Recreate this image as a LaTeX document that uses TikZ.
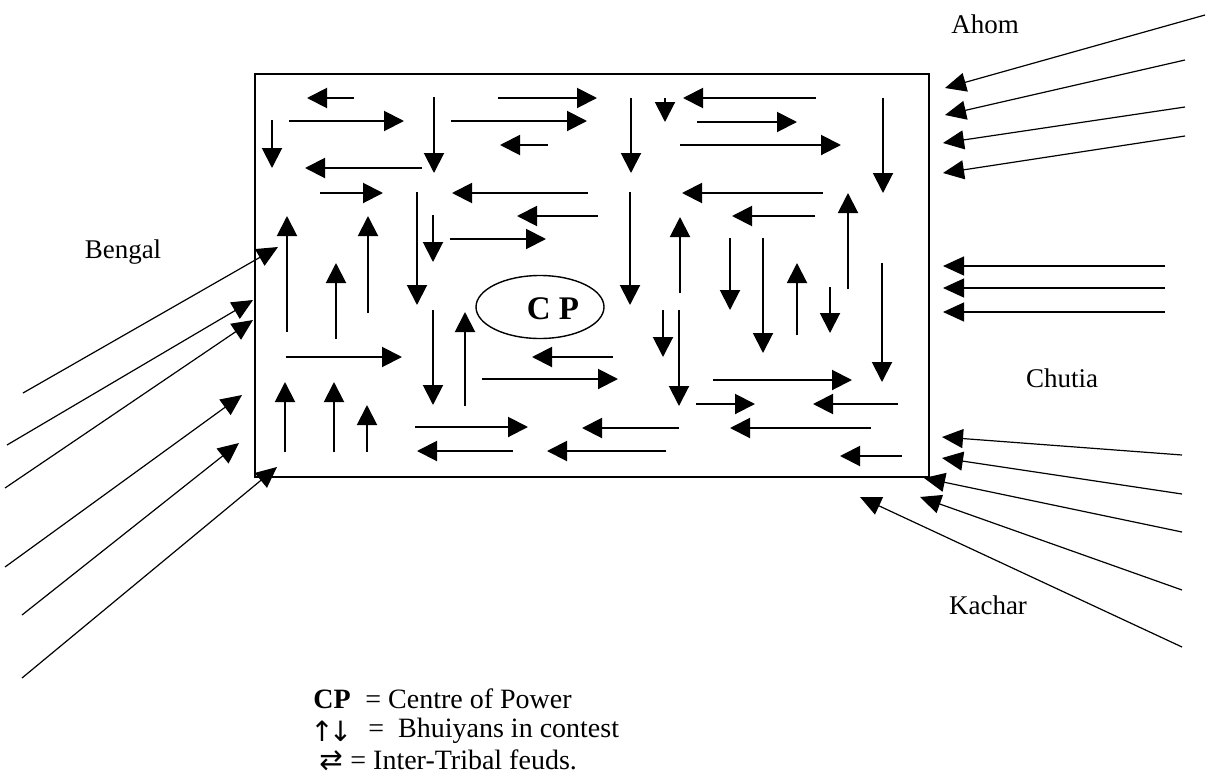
\documentclass[tikz,border=0pt]{standalone}
\usepackage{amsmath,amssymb}
\usepackage{fontspec}
\setmainfont{Liberation Serif}
\newfontfamily\arrowfont{DejaVu Sans}
\usetikzlibrary{arrows.meta,shapes.geometric}
\tikzset{
  feud/.style={line width=1pt,-{Triangle[length=10pt,width=10pt]}},
  raid/.style={line width=0.6pt,-{Triangle[length=10.5pt,width=9.5pt]}},
  tribe/.style={font=\fontsize{13.5}{16}\selectfont},
  keytext/.style={font=\fontsize{14}{16}\selectfont,anchor=west,inner sep=0pt},
  keysym/.style={font=\arrowfont\fontsize{14}{16}\selectfont,anchor=west,inner sep=0pt},
  cpring/.style={draw,ellipse,line width=0.7pt,minimum width=64pt,minimum height=31.5pt},
}
\begin{document}
\begin{tikzpicture}[x=0.5pt,y=-0.5pt]
  \useasboundingbox (0,0) rectangle (1210,777);
  % the kingdom
  \draw[line width=1pt] (255,74) rectangle (929,477);
  \node[cpring] (cp) at (540,307) {};
  \node[font=\fontsize{16.5}{18}\selectfont\bfseries] (cplabel) at (553,309) {C P};
  % row arrows
  \draw[feud] (354,98) -- (307,98);
  \draw[feud] (498,98) -- (597,98);
  \draw[feud] (816,98) -- (683,98);
  \draw[feud] (289,121) -- (404,121);
  \draw[feud] (451,121) -- (587,121);
  \draw[feud] (697,122) -- (797,122);
  \draw[feud] (548,145) -- (500,145);
  \draw[feud] (680,145) -- (841,145);
  \draw[feud] (422,168) -- (305,168);
  \draw[feud] (320,193) -- (383,193);
  \draw[feud] (588,193) -- (452,193);
  \draw[feud] (823,193) -- (682,193);
  \draw[feud] (598,216) -- (517,216);
  \draw[feud] (815,216) -- (732,216);
  \draw[feud] (450,239) -- (546,239);
  \draw[feud] (286,357) -- (402,357);
  \draw[feud] (613,357) -- (532,357);
  \draw[feud] (482,379) -- (618,379);
  \draw[feud] (713,380) -- (852,380);
  \draw[feud] (696,404) -- (755,404);
  \draw[feud] (898,404) -- (813,404);
  \draw[feud] (415,427) -- (528,427);
  \draw[feud] (679,428) -- (582,428);
  \draw[feud] (871,428) -- (730,428);
  \draw[feud] (513,451) -- (417,451);
  \draw[feud] (666,451) -- (547,451);
  \draw[feud] (902,456) -- (840,456);
  % column arrows
  \draw[feud] (434,97) -- (434,173);
  \draw[feud] (631,98) -- (631,173);
  \draw[feud] (665,98) -- (665,122);
  \draw[feud] (883,98) -- (883,193);
  \draw[feud] (272,120) -- (272,168);
  \draw[feud] (417,192) -- (417,305);
  \draw[feud] (630,192) -- (630,305);
  \draw[feud] (433,215) -- (433,262);
  \draw[feud] (287,332) -- (287,216);
  \draw[feud] (368,313) -- (368,216);
  \draw[feud] (680,293) -- (680,217);
  \draw[feud] (848,289) -- (848,193);
  \draw[feud] (730,238) -- (730,310);
  \draw[feud] (763,238) -- (763,353);
  \draw[feud] (336,339) -- (336,263);
  \draw[feud] (797,335) -- (797,263);
  \draw[feud] (882,263) -- (882,382);
  \draw[feud] (830,287) -- (830,333);
  \draw[feud] (663,310) -- (663,357);
  \draw[feud] (679,310) -- (679,406);
  \draw[feud] (433,310) -- (433,405);
  \draw[feud] (465,406) -- (465,312);
  \draw[feud] (285,452) -- (285,382);
  \draw[feud] (334,452) -- (334,382);
  \draw[feud] (367,452) -- (367,405);
  % invaders
  \node[tribe] (bengal) at (123,252) {Bengal};
  \node[tribe] (ahom) at (985,24) {Ahom};
  \node[tribe] (chutia) at (1062,378) {Chutia};
  \node[tribe] (kachar) at (988,605) {Kachar};
  \draw[raid] (23,393) -- (278,247);
  \draw[raid] (7,445) -- (253,300);
  \draw[raid] (5,488) -- (253,320);
  \draw[raid] (5,567) -- (242,395);
  \draw[raid] (22,615) -- (239,443);
  \draw[raid] (22,678) -- (277,467);
  \draw[raid] (1205,15) -- (945,88);
  \draw[raid] (1185,60) -- (945,115);
  \draw[raid] (1185,107) -- (943,143);
  \draw[raid] (1185,136) -- (943,173);
  \draw[raid] (1165,266) -- (943,266);
  \draw[raid] (1165,288) -- (943,288);
  \draw[raid] (1165,312) -- (943,312);
  \draw[raid] (1182,455) -- (942,437);
  \draw[raid] (1182,494) -- (942,458);
  \draw[raid] (1182,532) -- (924,478);
  \draw[raid] (1182,590) -- (920,497);
  \draw[raid] (1182,647) -- (860,497);
  % key
  \node[keytext,font=\fontsize{14}{16}\selectfont\bfseries] (keycp) at (313,699) {CP};
  \node[keytext] (keycptext) at (365,699) {= Centre of Power};
  \node[keysym] (keybh) at (310,731) {↑\kern-2.5pt↓};
  \node[keytext] (keybhtext) at (368,731) {=\ \ Bhuiyans in contest};
  \node[keysym] (keyfeud) at (319,761) {⇄};
  \node[keytext] (keyfeudtext) at (350,760) {= Inter-Tribal feuds.};
\end{tikzpicture}
\end{document}
